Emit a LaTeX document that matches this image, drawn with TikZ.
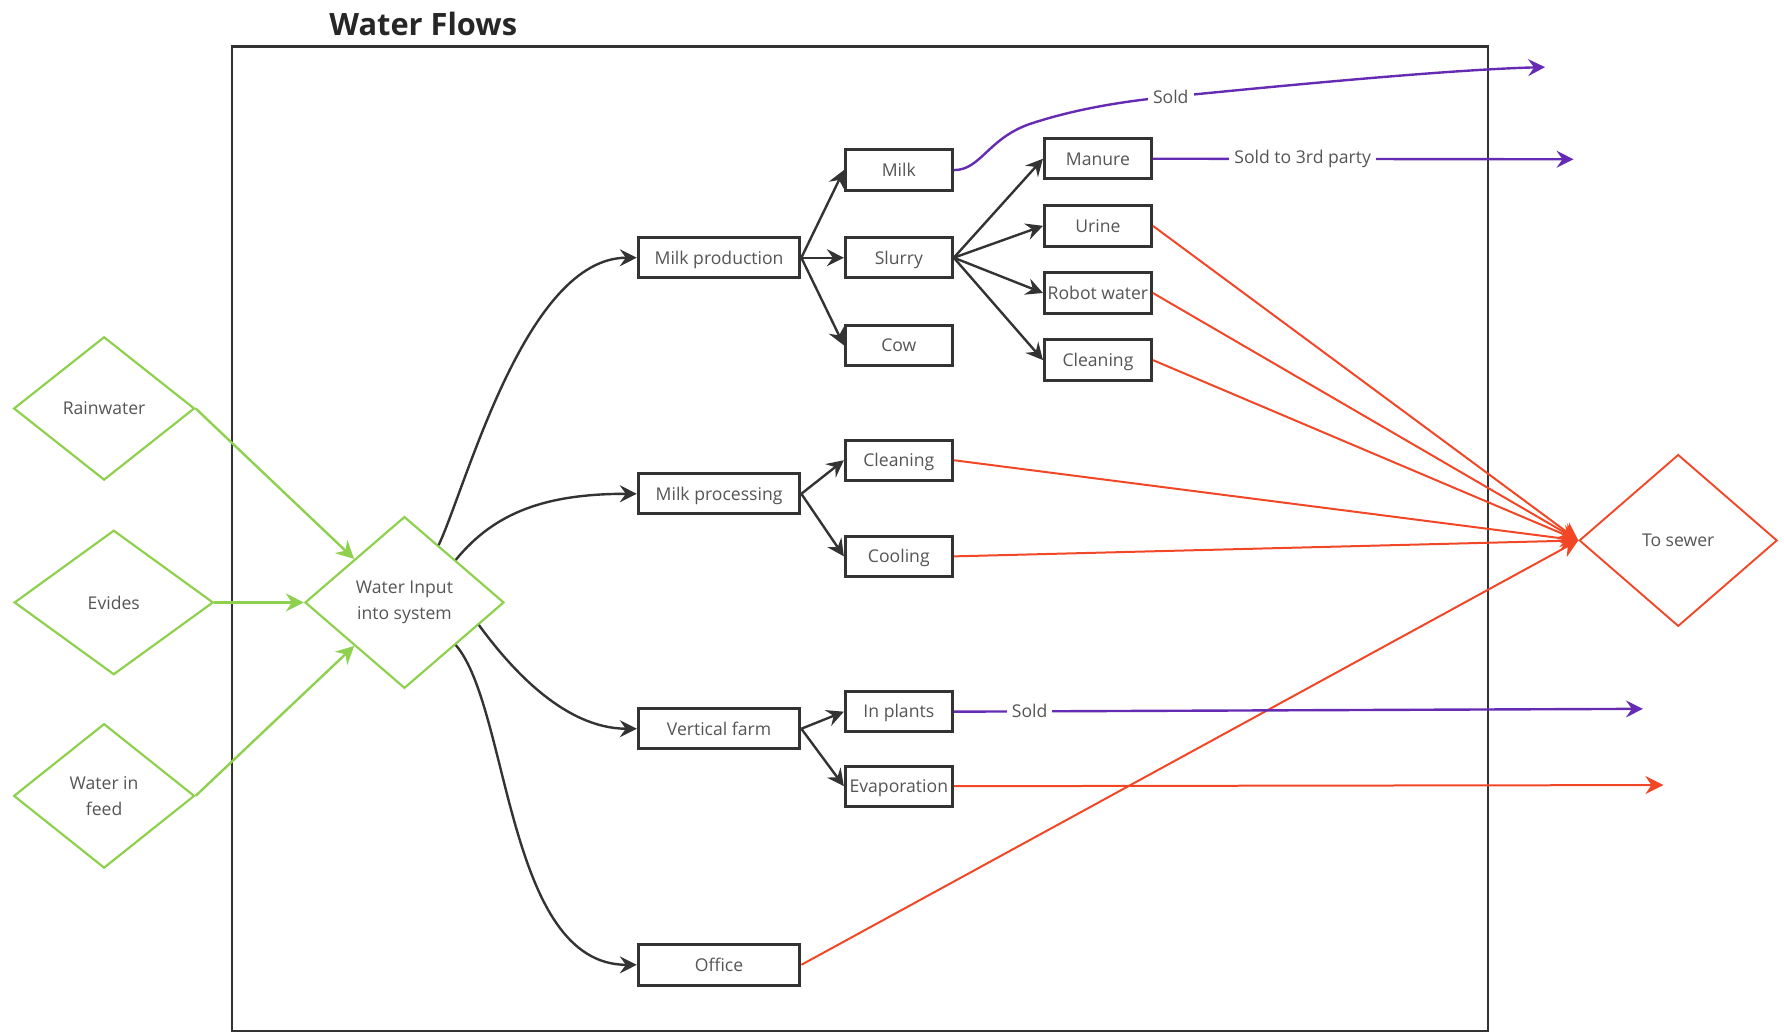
\documentclass[tikz,border=0pt]{standalone}
\usepackage{fontspec}
\setmainfont{Open Sans}
\usetikzlibrary{arrows.meta,shapes.geometric,calc}

\definecolor{edge}{HTML}{333333}
\definecolor{txt}{HTML}{555555}
\definecolor{leaf}{HTML}{8FD14F}
\definecolor{drain}{HTML}{F24726}
\definecolor{sale}{HTML}{652CB3}

\begin{document}
\begin{tikzpicture}[x=0.02cm, y=-0.02cm,
  font=\fontsize{8.8}{12.8}\selectfont,
  box/.style={draw=edge, line width=1.5pt, fill=white, text=txt, inner sep=0pt,
    minimum height=0.71cm, text height=6.3pt, text depth=0pt},
  wide/.style={box, minimum width=2.84cm},
  narrow/.style={box, minimum width=1.88cm},
  src/.style={diamond, draw=leaf, line width=1.1pt, text=txt, inner sep=0pt, align=center},
  sink/.style={diamond, draw=drain, line width=0.95pt, text=txt, inner sep=0pt},
  flow/.style={draw=edge, line width=1.2pt, -{Stealth[length=8.5pt,width=8.5pt,inset=3pt]}},
  feed/.style={draw=leaf, line width=1.2pt, -{Stealth[length=9pt,width=9pt,inset=3pt]}},
  waste/.style={draw=drain, line width=1pt, -{Stealth[length=9pt,width=9pt,inset=3pt]}},
  sold/.style={draw=sale, line width=1.2pt, -{Stealth[length=8.5pt,width=8.5pt,inset=3pt]}},
  lbl/.style={fill=white, text=txt, inner xsep=2.5pt, inner ysep=1pt},
]
\useasboundingbox (0,0) rectangle (1568,907);

% system boundary and heading
\draw[edge, line width=1.2pt] (204,41) rectangle (1308,906);
\node[font=\bfseries\fontsize{15.4}{18}\selectfont, text=black!85] (title) at (372,21) {Water Flows};

% water sources
\node[src, minimum width=3.18cm, minimum height=2.52cm] (rain) at (91.5,359) {Rainwater};
\node[src, minimum width=3.5cm, minimum height=2.54cm] (evides) at (100,529.5) {Evides};
\node[src, minimum width=3.18cm, minimum height=2.54cm] (wfeed) at (91.5,699.5) {Water in\\feed};
\node[src, minimum width=3.5cm, minimum height=3.02cm] (win) at (355.5,529.5) {Water Input\\into system};

% sewer
\node[sink, minimum width=3.48cm, minimum height=3.02cm] (sewer) at (1475,475) {To sewer};

% process boxes
\node[wide] (mprod) at (632,226.5) {Milk production};
\node[narrow] (milk) at (790,149.5) {Milk};
\node[narrow] (slurry) at (790,226.5) {Slurry};
\node[narrow] (cow) at (790,303.5) {Cow};
\node[narrow] (manure) at (965,139.5) {Manure};
\node[narrow] (urine) at (965,198.5) {Urine};
\node[narrow] (robot) at (965,257.5) {Robot water};
\node[narrow] (clean1) at (965,316.5) {Cleaning};
\node[wide] (mproc) at (632,434) {Milk processing};
\node[narrow] (clean2) at (790,404.5) {Cleaning};
\node[narrow] (cool) at (790,489) {Cooling};
\node[wide] (vfarm) at (632,640.5) {Vertical farm};
\node[narrow] (plants) at (790,625.5) {In plants};
\node[narrow] (evap) at (790,691) {Evaporation};
\node[wide] (office) at (632,848) {Office};

% free ends of outgoing flows
\coordinate (outmilk) at (1358,59);
\coordinate (outmanure) at (1383,140);
\coordinate (outplants) at (1444,623);
\coordinate (outevap) at (1462,690);

% inputs
\draw[feed] (rain.east) -- ($(win.west)!0.5!(win.north)$);
\draw[feed] (evides.east) -- (win.west);
\draw[feed] (wfeed.east) -- ($(win.west)!0.5!(win.south)$);

% distribution from the input node
\coordinate (w1) at ($(win.north)!0.34!(win.east)$);
\coordinate (w2) at ($(win.north)!0.51!(win.east)$);
\coordinate (w3) at ($(win.east)!0.26!(win.south)$);
\coordinate (w4) at ($(win.east)!0.49!(win.south)$);
\draw[flow] (w1) .. controls (410,427) and (462,226.5) .. (mprod.west);
\draw[flow] (w2) .. controls (435,450) and (480,434) .. (mproc.west);
\draw[flow] (w3) .. controls (447,585) and (495,640.5) .. (vfarm.west);
\draw[flow] (w4) .. controls (448,622) and (445,848) .. (office.west);

% branches
\draw[flow] (mprod.east) -- (milk.west);
\draw[flow] (mprod.east) -- (slurry.west);
\draw[flow] (mprod.east) -- (cow.west);
\draw[flow] (slurry.east) -- (manure.west);
\draw[flow] (slurry.east) -- (urine.west);
\draw[flow] (slurry.east) -- (robot.west);
\draw[flow] (slurry.east) -- (clean1.west);
\draw[flow] (mproc.east) -- (clean2.west);
\draw[flow] (mproc.east) -- (cool.west);
\draw[flow] (vfarm.east) -- (plants.west);
\draw[flow] (vfarm.east) -- (evap.west);

% discharges to sewer
\draw[waste] (urine.east) -- (sewer.west);
\draw[waste] (robot.east) -- (sewer.west);
\draw[waste] (clean1.east) -- (sewer.west);
\draw[waste] (clean2.east) -- (sewer.west);
\draw[waste] (cool.east) -- (sewer.west);
\draw[waste] (office.east) -- (sewer.west);
\draw[waste] (evap.east) -- (outevap);

% sales
\draw[sold] (milk.east) .. controls (862,149.5) and (868,122) .. (905,109)
  .. controls (935,99) and (975,90) .. (1029,85)
  .. controls (1150,73) and (1280,61) .. (outmilk);
\node[lbl] (soldmilk) at (1029,85) {Sold};
\draw[sold] (manure.east) -- node[lbl, pos=0.356] (soldmanure) {Sold to 3rd party} (outmanure);
\draw[sold] (plants.east) -- node[lbl, pos=0.11] (soldplants) {Sold} (outplants);

\end{tikzpicture}
\end{document}
